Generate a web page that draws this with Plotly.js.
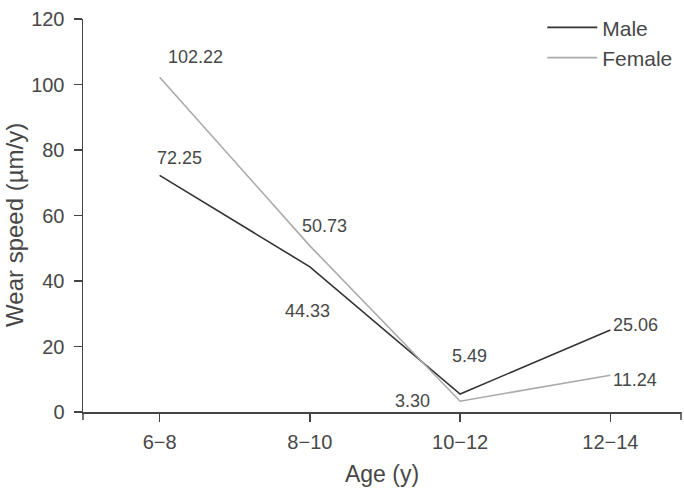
<!DOCTYPE html>
<html><head><meta charset="utf-8">
<script src="https://cdn.plot.ly/plotly-3.0.1.min.js"></script>
<style>html,body{margin:0;padding:0;background:#fff}#chart{width:684px;height:490px}</style>
</head><body><div id="chart"></div>
<script>
const categories = ["6\u22128", "8\u221210", "10\u221212", "12\u221214"];
const maleValues = [72.25, 44.33, 5.49, 25.06];
const femaleValues = [102.22, 50.73, 3.30, 11.24];
const maleLabels = ["72.25", "44.33", "5.49", "25.06"];
const femaleLabels = ["102.22", "50.73", "3.30", "11.24"];
const yTicks = [0, 20, 40, 60, 80, 100, 120];
const xTitle = "Age (y)";
const yTitle = "Wear speed (\u00b5m/y)";

const maleShift = [[20, 17], [-2, -44], [9, 38], [25, 5]];
const femaleShift = [[36, 20], [15, 20], [-48, 0], [25, -5]];

const font = {family: "Liberation Sans, Arial, sans-serif", color: "#474747"};
const f = s => Object.assign({size: s}, font);

const traces = [
  {x: categories, y: maleValues, name: "Male", type: "scatter", mode: "lines",
   line: {color: "#333333", width: 1.6}},
  {x: categories, y: femaleValues, name: "Female", type: "scatter", mode: "lines",
   line: {color: "#aaaaaa", width: 1.6}}
];

const annotations = [];
categories.forEach((c, i) => {
  annotations.push({x: c, y: maleValues[i], xref: "x", yref: "y", text: maleLabels[i],
    showarrow: false, xshift: maleShift[i][0], yshift: maleShift[i][1], font: f(18)});
  annotations.push({x: c, y: femaleValues[i], xref: "x", yref: "y", text: femaleLabels[i],
    showarrow: false, xshift: femaleShift[i][0], yshift: femaleShift[i][1], font: f(18)});
});
annotations.push({text: yTitle, xref: "paper", yref: "paper", x: 0, y: 0.476,
  xanchor: "center", yanchor: "middle", xshift: -68, textangle: -90,
  showarrow: false, font: f(24)});

const shapes = [0, 1].map(px => ({type: "line", xref: "paper", yref: "paper",
  x0: px, x1: px, ysizemode: "pixel", yanchor: 0, y0: 0, y1: -8,
  line: {color: "#444", width: 1.5}}));

const layout = {
  width: 684, height: 490,
  margin: {l: 83, r: 3, t: 19, b: 78},
  paper_bgcolor: "#fff", plot_bgcolor: "#fff",
  font: font,
  showlegend: true,
  legend: {x: 0.768, y: 1.03, xanchor: "left", yanchor: "top", font: f(21),
    itemwidth: 50, bgcolor: "rgba(0,0,0,0)", tracegroupgap: 0},
  xaxis: {
    type: "category", categoryorder: "array", categoryarray: categories,
    range: [-0.51, 3.47],
    showline: true, linecolor: "#444", linewidth: 1.5,
    ticks: "outside", ticklen: 8, tickcolor: "#444", tickwidth: 1.5,
    ticklabelstandoff: 3,
    showgrid: false, zeroline: false,
    tickfont: f(20),
    title: {text: xTitle, font: f(23), standoff: 14}
  },
  yaxis: {
    range: [0, 120], tickvals: yTicks,
    showline: true, linecolor: "#444", linewidth: 1.5,
    ticks: "outside", ticklen: 8, tickcolor: "#444", tickwidth: 1.5,
    ticklabelstandoff: 5,
    showgrid: false, zeroline: false,
    tickfont: f(20)
  },
  shapes: shapes,
  annotations: annotations
};

Plotly.newPlot("chart", traces, layout, {displayModeBar: false, staticPlot: true});
</script></body></html>
